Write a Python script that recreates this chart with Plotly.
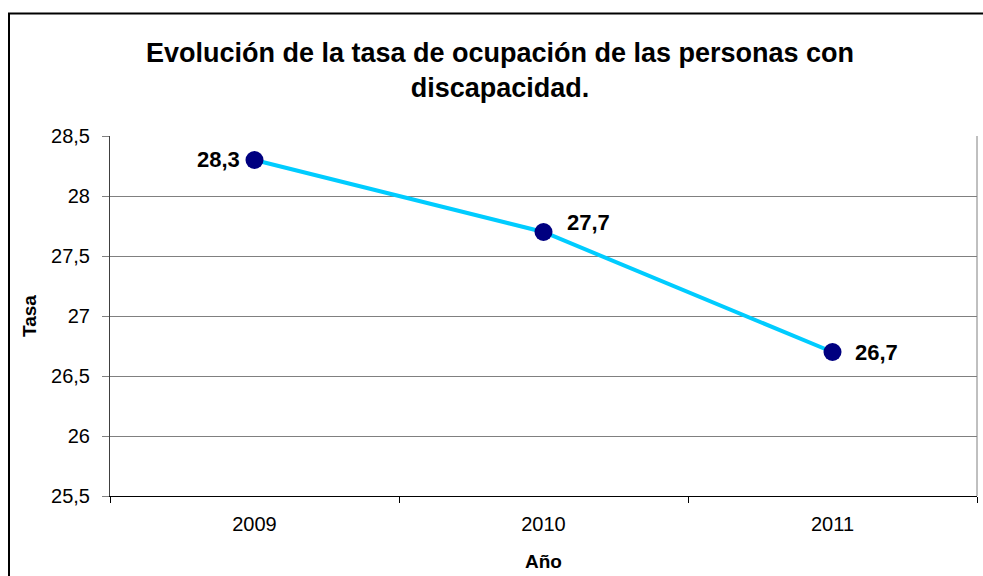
import plotly.graph_objects as go

years = ["2009", "2010", "2011"]
tasa = [28.3, 27.7, 26.7]
y_ticks = [25.5, 26, 26.5, 27, 27.5, 28, 28.5]

FONT = "Liberation Sans, Arial, sans-serif"

fig = go.Figure()
fig.add_trace(go.Scatter(
    x=years, y=tasa,
    mode="lines+markers",
    line=dict(color="#00CCFF", width=4),
    marker=dict(color="#000080", size=18),
    cliponaxis=False,
    showlegend=False,
))

# data labels anchored to the data points (category index on x)
label_anchor = ["right", "left", "left"]
label_dx = [-13, 21, 20]
label_dy = [1, 10, 0]
for i, (v, anc, dx, dy) in enumerate(zip(tasa, label_anchor, label_dx, label_dy)):
    fig.add_annotation(
        x=i, y=v, xref="x", yref="y",
        text=f"<b>{v:.1f}</b>".replace(".", ","),
        showarrow=False, xanchor=anc, yanchor="middle",
        xshift=dx, yshift=dy,
        font=dict(family=FONT, size=22, color="black"),
    )

L, R, T, B = 110, 6, 136, 80
W, H = 983, 576
pw, ph = W - L - R, H - T - B

def px(x):
    return (x - L) / pw

def py(y):
    return (H - B - y) / ph

fig.update_layout(
    width=W, height=H,
    margin=dict(l=L, r=R, t=T, b=B, autoexpand=False),
    paper_bgcolor="white", plot_bgcolor="white",
    separators=",.",
    font=dict(family=FONT, size=20, color="black"),
    title=dict(
        text="<b>Evolución de la tasa de ocupación de las personas con<br>discapacidad.</b>",
        xref="container", x=500 / W, xanchor="center",
        yref="container", y=1 - 62 / H, yanchor="middle",
        font=dict(family=FONT, size=27, color="black"),
    ),
    xaxis=dict(
        type="category",
        range=[-0.5, 2.5],
        showgrid=False,
        showline=True, linecolor="black", linewidth=1,
        ticks="outside", ticklen=6, tickcolor="black",
        tickson="boundaries",
        tickfont=dict(size=20),
        ticklabelstandoff=10,
        title=dict(text="<b>Año</b>", font=dict(size=19), standoff=20),
    ),
    yaxis=dict(
        range=[25.5, 28.5],
        tickvals=y_ticks,
        showgrid=True, gridcolor="#808080", gridwidth=1,
        showline=True, linecolor="#404040", linewidth=1,
        ticks="outside", ticklen=7, tickcolor="#808080",
        tickfont=dict(size=20),
        ticklabelstandoff=8,
        title=dict(text="<b>Tasa</b>", font=dict(size=19), standoff=9),
        zeroline=False,
    ),
    shapes=[
        dict(type="line", xref="paper", yref="paper",
             x0=px(977), x1=px(977), y0=0, y1=1,
             line=dict(color="#808080", width=1)),
        dict(type="rect", xref="paper", yref="paper",
             x0=px(9), x1=px(995), y0=py(13.5), y1=py(595),
             line=dict(color="black", width=2), layer="above"),
    ],
)

fig.write_html(
    "out.html",
    config={"displayModeBar": False},
    post_script="document.body.style.margin='0';document.body.style.overflow='hidden';",
)
